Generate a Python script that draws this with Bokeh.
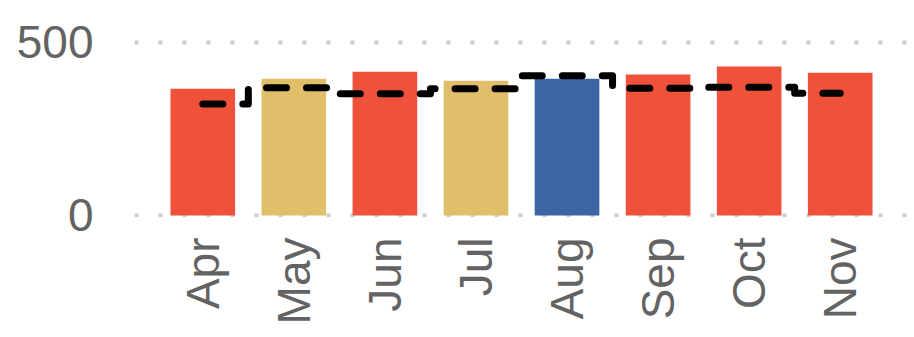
import math
from bokeh.plotting import figure
from bokeh.models import FactorRange, Range1d, FixedTicker, ColumnDataSource
from bokeh.embed import file_html
from bokeh.resources import INLINE

months = ["Apr", "May", "Jun", "Jul", "Aug", "Sep", "Oct", "Nov"]
bar_values = [366, 395, 415, 389, 395, 407, 430, 412]
line_values = [322, 369, 351, 366, 403, 367, 370, 353]
bar_colors = ["#F0513A", "#E0BE6A", "#F0513A", "#E0BE6A", "#3D65A5",
              "#F0513A", "#F0513A", "#F0513A"]
y_ticks = [0, 500]

src = ColumnDataSource(dict(month=months, bar=bar_values, line=line_values, color=bar_colors))

p = figure(
    x_range=FactorRange(factors=months, range_padding=0.25, range_padding_units="absolute"),
    y_range=Range1d(-6, 560),
    width=914, height=337,
    output_backend="svg", toolbar_location=None,
    min_border_left=134, min_border_right=6, min_border_top=21, min_border_bottom=120,
)
p.outline_line_color = None
p.background_fill_color = "white"
p.border_fill_color = "white"

p.vbar(x="month", top="bar", bottom=0, width=0.71, fill_color="color", line_color=None, source=src)
p.step(x="month", y="line", mode="center", source=src, line_color="black", line_width=7,
       line_dash="20 20", line_cap="round", line_join="round")

p.xgrid.grid_line_color = None
p.ygrid.grid_line_color = "#cccccc"
p.ygrid.grid_line_width = 4
p.ygrid.grid_line_dash = "4 20"
p.yaxis.ticker = FixedTicker(ticks=y_ticks)

for ax in (p.xaxis[0], p.yaxis[0]):
    ax.axis_line_color = None
    ax.major_tick_line_color = None
    ax.minor_tick_line_color = None
    ax.major_tick_out = 0
    ax.major_tick_in = 0
    ax.minor_tick_out = 0
    ax.major_label_text_font = "Liberation Sans"
    ax.major_label_text_font_size = "46px"
    ax.major_label_text_color = "#636363"

p.yaxis.major_label_standoff = 41
p.xaxis.major_label_standoff = 20
p.xaxis.major_label_orientation = math.pi / 2

open("out.html", "w").write(file_html(p, INLINE))
